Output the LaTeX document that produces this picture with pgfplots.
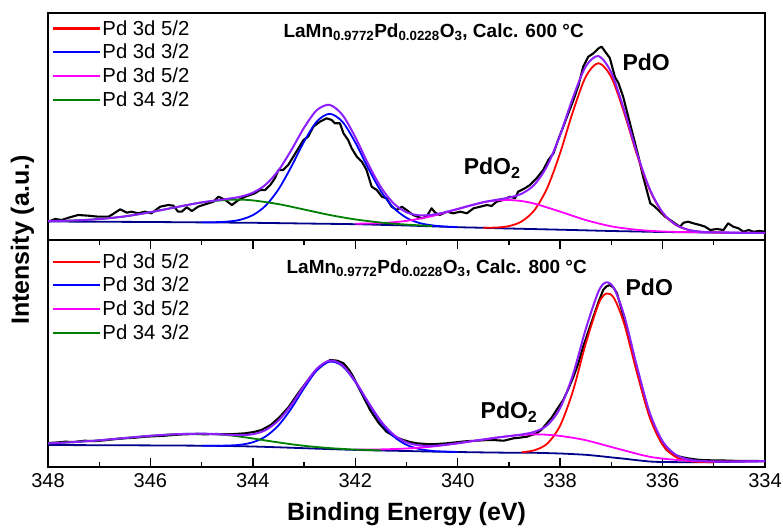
\documentclass[border=0pt]{standalone}
\usepackage{pgfplots}
\pgfplotsset{compat=1.18}
\usepackage{fontspec}
\setmainfont{Liberation Sans}
\definecolor{cred}{RGB}{255,0,0}
\definecolor{cblue}{RGB}{0,0,255}
\definecolor{cmag}{RGB}{255,0,255}
\definecolor{cgreen}{RGB}{0,128,0}
\definecolor{cpurple}{RGB}{140,30,255}
\definecolor{cnavy}{RGB}{0,0,139}
\newcommand\legfont{\fontsize{20.3}{24}\selectfont}
\newcommand\titfont{\bfseries\fontsize{19}{22}\selectfont}
\newcommand\pkfont{\bfseries\fontsize{23}{27}\selectfont}
\newcommand\labfont{\bfseries\fontsize{25}{30}\selectfont}
\pgfplotsset{
  panel/.style={width=717pt,height=227pt,scale only axis,x dir=reverse,
    xmin=334,xmax=348,ymin=0,ymax=227,ytick=\empty,
    axis line style={line width=1.9pt},clip mode=individual,
    legend cell align=left,
    legend image code/.code={\draw[##1,line width=2.2pt](0pt,0pt)--(47pt,0pt);},
    legend style={draw=none,fill=none,anchor=north west,font=\legfont,
      inner sep=0pt,row sep=4.5pt,nodes={inner sep=1.5pt,xshift=2pt}}},
  comp/.style={line width=1.8pt,smooth,no markers},
}
\begin{document}
\begin{tikzpicture}
\useasboundingbox (-48pt,-60pt) rectangle (735pt,467pt);
% ---------------- top panel ----------------
\begin{axis}[panel, at={(0pt,227pt)}, xtick=\empty,
  legend style={at={(0.005,0.975)}}]
\addplot[black,line width=2.1pt,line join=round,forget plot] coordinates {
(348.0,18.3)(347.86,21)(347.73,20)(347.6,22.3)(347.41,25)(347.21,24.3)(347.02,23.3)(346.82,23.3)(346.76,25)(346.59,30.7)(346.46,27.3)(346.37,28.3)(346.24,26.7)(346.11,28.3)(345.98,26.7)(345.81,33.3)(345.65,35)(345.55,34.3)(345.46,28.3)(345.39,28.3)(345.29,32.7)(345.19,29)(345.07,33.3)(344.87,36.7)(344.77,38.3)(344.67,43.3)(344.54,40)(344.41,35)(344.28,40)(344.15,43.3)(343.96,46.7)(343.86,50)(343.76,50)(343.66,55)(343.57,61.7)(343.5,70)(343.41,70)(343.31,75)(343.21,83.3)(343.11,91.7)(343.01,100)(342.92,103.3)(342.82,113.3)(342.69,118.3)(342.56,121.7)(342.46,120)(342.40,116.7)(342.30,116.7)(342.23,106.7)(342.14,100)(342.07,91.7)(341.97,83.3)(341.87,78.3)(341.78,70)(341.68,53.3)(341.58,50)(341.48,43.3)(341.39,41.7)(341.29,33.3)(341.19,30)(341.09,33.3)(341.0,30)(340.87,25)(340.70,21.7)(340.61,23.3)(340.51,31.7)(340.44,27.3)(340.35,25)(340.21,28.3)(340.09,26.7)(339.95,28.3)(339.82,26.7)(339.69,31.7)(339.56,33.3)(339.43,35)(339.34,34)(339.24,38.3)(339.11,40)(338.98,43.3)(338.88,41.7)(338.82,48.3)(338.69,51.7)(338.59,55)(338.46,61.7)(338.33,70)(338.23,80)(338.13,86.7)(338.04,100)(337.94,113.3)(337.84,126.7)(337.74,140)(337.64,155)(337.55,173.3)(337.45,183.3)(337.35,186.7)(337.25,191.7)(337.19,193.3)(337.12,188.3)(337.03,182)(336.93,163)(336.86,156.7)(336.77,143.3)(336.67,123.3)(336.57,103.3)(336.47,83.3)(336.38,63.3)(336.24,36.7)(336.15,33.3)(336.05,28.3)(335.95,23.3)(335.85,20)(335.76,16.7)(335.66,13.3)(335.59,17.3)(335.50,18.3)(335.40,16.7)(335.27,15)(335.17,13.3)(335.07,10)(334.94,11)(334.81,10)(334.72,16.7)(334.62,13.3)(334.52,11.7)(334.42,8.3)(334.32,10)(334.23,8.3)(334.10,9)(334.0,8.3)};
\addplot[comp,cnavy,forget plot] coordinates {
(348,18.5)(347,18.25)(346,18.0)(345,17.6)(344,17.2)(343,16.5)(342,15.8)(341.5,15.15)(341,14.5)(340.5,13.65)(340,12.8)(339.5,12.2)(339,11.5)(338.5,10.9)(338,10.3)(337.5,9.65)(337,9.0)(336.5,8.5)(336,8.0)(335,7.5)(334,7.0)};
\addplot[comp,cred] coordinates {
(339.5,12.35)(339.25,12.45)(339,13.9)(338.75,18.6)(338.5,30.0)(338.25,52.3)(338,87.0)(337.75,128.4)(337.5,163.25)(337.25,176.8)(337,162.6)(336.75,127.15)(336.5,85.2)(336.25,49.95)(336,27.1)(335.75,15.3)(335.5,10.15)(335.25,8.25)(335,7.65)(334.75,7.15)};
\addlegendentry{Pd 3d 5/2}
\addplot[comp,cblue] coordinates {
(345,17.7)(344.75,17.8)(344.5,18.4)(344.25,20.2)(344,24.9)(343.75,34.35)(343.5,50.6)(343.25,73.2)(343,98.3)(342.75,118.55)(342.5,126.2)(342.25,118.2)(342,97.6)(341.75,72.0)(341.5,48.85)(341.25,32.1)(341,22.2)(340.75,17.0)(340.5,14.65)(340.25,13.5)(340,12.9)};
\addlegendentry{Pd 3d 3/2}
\addplot[comp,cmag] coordinates {
(342,16.3)(341.5,16.85)(341,19.15)(340.5,23.95)(340,30.9)(339.5,37.65)(339.25,39.5)(339,40.0)(338.75,38.9)(338.5,36.35)(338,28.4)(337.5,19.95)(337,13.65)(336.5,10.2)(336,8.5)(335.5,7.85)(335,7.5)(334.5,7.25)(334,7.0)};
\addlegendentry{Pd 3d 5/2}
\addplot[comp,cgreen] coordinates {
(348,18.9)(347.5,19.5)(347,20.95)(346.5,23.6)(346,27.8)(345.5,32.8)(345,37.5)(344.5,40.1)(344.25,40.3)(344,39.6)(343.5,35.9)(343,30.5)(342.5,25.0)(342,20.6)(341.5,17.45)(341,15.4)(340.5,13.95)};
\addlegendentry{Pd 34 3/2}
\addplot[comp,cpurple,line width=2pt,forget plot] coordinates {
(348,18.9)(347.5,19.5)(347,20.95)(346.5,23.6)(346,27.8)(345.5,32.8)(345,37.6)(344.5,41.1)(344.25,43.2)(344,47.3)(343.75,55.35)(343.5,69.6)(343.25,89.8)(343,112.3)(342.75,129.85)(342.5,135.1)(342.25,125.0)(342,102.9)(341.75,76.3)(341.5,52.85)(341.25,36.5)(341,27.75)(340.75,24.65)(340.5,25.25)(340.25,27.7)(340,31.1)(339.75,34.6)(339.5,37.8)(339.25,40.15)(339,42.4)(338.75,46.3)(338.5,55.45)(338.25,74.4)(338,105.1)(337.75,142.4)(337.5,173.55)(337.25,183.9)(337,167.25)(336.75,130.05)(336.5,86.9)(336.25,50.85)(336,27.6)(335.75,15.55)(335.5,10.25)(335.25,8.25)(335,7.65)(334.5,7.25)(334,7.0)};
\node[anchor=base west,font=\titfont] at (axis cs:343.47,202.7) {LaMn\textsubscript{0.9772}Pd\textsubscript{0.0228}O\textsubscript{3}, Calc. 600 °C};
\node[anchor=base west,font=\pkfont] at (axis cs:336.85,169) {PdO};
\node[anchor=base west,font=\pkfont] at (axis cs:339.95,65) {PdO\textsubscript{2}};
\end{axis}
% ---------------- bottom panel ----------------
\begin{axis}[panel, at={(0pt,0pt)},
  xtick={334,336,...,348}, minor x tick num=1, tick align=inside,
  major tick length=9pt, minor tick length=5pt,
  every tick/.style={black,line width=1.4pt},
  xticklabel style={font=\fontsize{20}{24}\selectfont,yshift=-3pt},
  /pgf/number format/assume math mode=true,
  legend style={at={(0.005,0.948)}}]
\addplot[black,line width=2.1pt,line join=round,forget plot] coordinates {
(348.0,24.0)(347.8,24.6)(347.67,25.3)(347.5,25.0)(347.28,26.3)(347.1,25.8)(346.89,26.7)(346.7,27.8)(346.5,28.7)(346.3,29.3)(346.1,30.3)(345.9,30.8)(345.72,31.3)(345.5,32.2)(345.33,32.7)(345.1,33.0)(344.94,32.7)(344.7,33.0)(344.54,32.7)(344.35,33.0)(344.15,33.7)(343.98,35.0)(343.83,37)(343.65,42)(343.47,50.3)(343.3,60)(343.14,72)(342.98,83)(342.82,93.7)(342.65,101.5)(342.49,107)(342.35,106.3)(342.23,103.7)(342.12,97)(342.04,90.3)(341.88,74)(341.71,57)(341.55,44.5)(341.39,35.3)(341.22,30)(341.06,27)(340.93,25)(340.8,23.7)(340.67,23.2)(340.54,22.7)(340.38,23.1)(340.21,23.7)(340.05,24.6)(339.89,25.5)(339.76,26.0)(339.63,26.3)(339.45,26.9)(339.3,27)(339.2,26.6)(339.1,26.3)(338.91,28.7)(338.78,29.4)(338.65,30.3)(338.46,33.7)(338.36,37.5)(338.26,43.7)(338.17,49)(338.07,57)(337.94,67)(337.84,78)(337.74,90.3)(337.64,104.5)(337.55,120.3)(337.45,135.5)(337.35,150.3)(337.25,165)(337.16,177)(337.1,180.5)(337.03,182)(336.96,179.5)(336.89,173.7)(336.8,157.5)(336.70,137)(336.6,117)(336.50,97)(336.4,77.5)(336.31,60.3)(336.21,45.5)(336.11,33.7)(336.02,24.5)(335.92,17)(335.8,12.8)(335.66,10.3)(335.5,8.6)(335.27,7)(335.1,6.8)(335.0,6.5)(334.8,6.5)(334.5,6)(334.3,6.2)(334.0,5.8)};
\addplot[comp,cnavy,forget plot] coordinates {
(348,22.0)(347,21.8)(346,21.6)(345,21.3)(344.5,21.0)(344,20.5)(343.5,19.7)(343,18.8)(342.5,17.9)(342,17.1)(341.5,16.5)(341,16.0)(340.5,15.4)(340,15.0)(339.5,14.6)(339,14.3)(338.5,14.2)(338,13.5)(337.75,12.9)(337.5,12.2)(337.25,11.0)(337,9.6)(336.75,8.3)(336.5,6.8)(336.25,5.5)(336,5.0)(335.5,4.8)(335,4.9)(334.5,5.3)(334,5.8)};
\addplot[comp,cred] coordinates {
(338.75,14.75)(338.5,16.8)(338.25,23.45)(338,41.4)(337.75,76.0)(337.5,123.3)(337.25,163.2)(337.1,173.4)(336.95,169.0)(336.75,143.3)(336.5,94.2)(336.25,49.5)(336,22.3)(335.75,10.2)(335.5,6.1)(335.25,5.0)(335,4.9)};
\addlegendentry{Pd 3d 5/2}
\addplot[comp,cblue] coordinates {
(345,21.3)(344.75,21.25)(344.5,21.45)(344.25,22.2)(344,24.75)(343.75,30.55)(343.5,41.6)(343.25,58.45)(343,78.8)(342.75,96.75)(342.5,105.4)(342.25,101.0)(342,85.1)(341.75,64.2)(341.5,44.7)(341.25,30.55)(341,22.2)(340.75,18.0)(340.5,16.1)(340.25,15.4)(340,15.05)};
\addlegendentry{Pd 3d 3/2}
\addplot[comp,cmag] coordinates {
(342,17.5)(341.5,17.6)(341,18.5)(340.5,20.4)(340,23.7)(339.5,27.5)(339,30.9)(338.75,32.05)(338.5,32.65)(338.25,32.25)(338,31.1)(337.75,29.2)(337.5,26.8)(337.25,23.5)(337,20.0)(336.75,16.6)(336.5,13.2)(336.25,10.2)(336,8.4)(335.75,7.2)(335.5,6.3)(335.25,5.8)(335,5.5)(334.5,5.5)(334,5.85)};
\addlegendentry{Pd 3d 5/2}
\addplot[comp,cgreen] coordinates {
(348,23.6)(347.5,24.9)(347,26.7)(346.5,29.0)(346,31.2)(345.5,32.8)(345,33.3)(344.5,31.9)(344,28.55)(343.75,26.5)(343.5,24.6)(343.25,22.75)(343,21.2)(342.75,19.95)(342.5,18.9)(342.25,18.1)(342,17.4)(341.5,16.6)};
\addlegendentry{Pd 34 3/2}
\addplot[comp,cpurple,line width=2pt,forget plot] coordinates {
(348,23.6)(347.5,24.9)(347,26.7)(346.5,29.0)(346,31.2)(345.5,32.8)(345,33.3)(344.75,32.96)(344.5,32.34)(344.25,31.83)(344,32.81)(343.75,36.95)(343.5,46.5)(343.25,61.95)(343,81.2)(342.75,98.35)(342.5,106.4)(342.25,101.8)(342,85.8)(341.75,65.1)(341.5,45.9)(341.25,32.25)(341,24.7)(340.75,21.6)(340.5,21.13)(340.25,22.2)(340,23.75)(339.75,25.6)(339.5,27.5)(339.25,29.35)(339,30.9)(338.75,32.55)(338.5,35.25)(338.25,41.85)(338,59.0)(337.75,92.3)(337.5,137.9)(337.25,175.7)(337.1,184.6)(336.95,178.9)(336.75,151.6)(336.5,100.6)(336.25,54.2)(336,25.7)(335.75,12.5)(335.5,7.6)(335.25,6.0)(335,5.5)(334.5,5.5)(334,5.85)};
\node[anchor=base west,font=\titfont] at (axis cs:343.41,193.7) {LaMn\textsubscript{0.9772}Pd\textsubscript{0.0228}O\textsubscript{3}, Calc. 800 °C};
\node[anchor=base west,font=\pkfont] at (axis cs:336.79,171.3) {PdO};
\node[anchor=base west,font=\pkfont] at (axis cs:339.62,48.7) {PdO\textsubscript{2}};
\node[rotate=90,font=\labfont] at (axis description cs:-0.0356,1) {Intensity (a.u.)};
\node[anchor=base,font=\labfont,yshift=-53pt] at (axis description cs:0.5,0) {Binding Energy (eV)};
\end{axis}
\end{tikzpicture}
\end{document}
